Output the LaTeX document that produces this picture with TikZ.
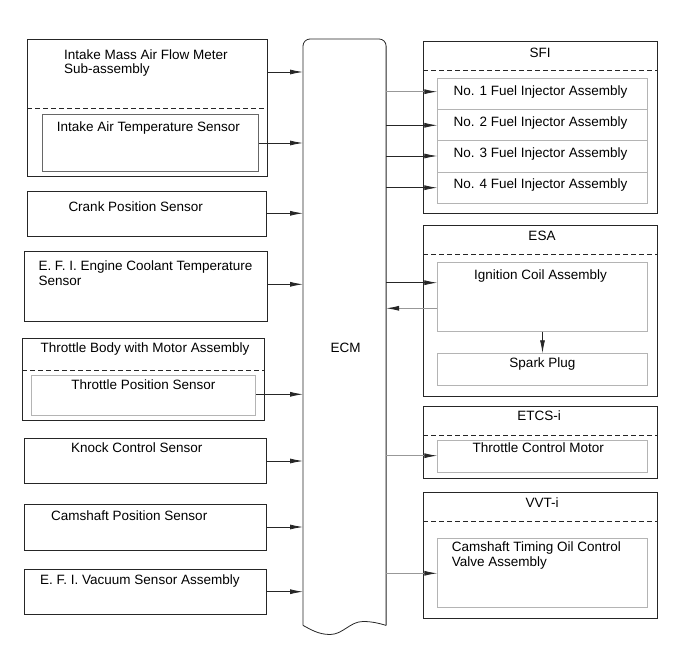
\documentclass[tikz,border=0pt]{standalone}
\usepackage{fontspec}
\setmainfont{Liberation Sans}
\usepackage{tikz}
\usetikzlibrary{arrows.meta,positioning}
\definecolor{inkgray}{HTML}{262626}
\definecolor{palegray}{HTML}{B4B4B4}
\tikzset{
  blk/.style={draw=inkgray,line width=.8pt,inner sep=0,anchor=north west},
  sub/.style={draw=palegray,line width=1pt,inner sep=0,anchor=north west},
  lbl/.style={inner sep=0,font=\fontsize{13.5}{14.5}\selectfont,align=left},
  sep/.style={inkgray,line width=.8pt,dash pattern=on 5pt off 3pt},
  sig/.style={-{Latex[length=13pt,width=5pt]},inkgray,line width=.8pt},
  sigpale/.style={-{Latex[length=13pt,width=5pt,color=inkgray]},palegray!80!inkgray,line width=.9pt},
}

\begin{document}
\begin{tikzpicture}[x=1pt,y=-1pt]
  \useasboundingbox (0,0) rectangle (691,660);
  % sensors (left)
  \node[blk,minimum width=240,minimum height=136.4] (maf) at (27,39.3) {};
  \draw[sep] (maf.west |- 0,108) -- (maf.east |- 0,108);
  \node[blk,draw=inkgray!70,minimum width=216,minimum height=57.3] (iat) at (42,113.7) {};
  \node[blk,minimum width=239,minimum height=44.7] (crank) at (26.7,191) {};
  \node[blk,minimum width=242.7,minimum height=70] (ect) at (24,251) {};
  \node[blk,minimum width=242,minimum height=81.7] (tb) at (22.3,338.3) {};
  \draw[sep] (tb.west |- 0,370.7) -- (tb.east |- 0,370.7);
  \node[sub,minimum width=224,minimum height=40] (tps) at (31,375) {};
  \node[blk,minimum width=241.7,minimum height=45] (knock) at (24,438.3) {};
  \node[blk,minimum width=241.7,minimum height=45.7] (cmp) at (24,504.3) {};
  \node[blk,minimum width=241.7,minimum height=44.7] (vac) at (24,569.3) {};

  \node[lbl,anchor=base west] (maft) at (64,73.8) {Intake Mass Air Flow Meter\\Sub-assembly};
  \node[lbl,anchor=base west] (iatt) at (56.7,131.7) {Intake Air Temperature Sensor};
  \node[lbl,anchor=base west] (crankt) at (68.3,211.7) {Crank Position Sensor};
  \node[lbl,anchor=base west] (ectt) at (38.3,285.2) {E. F. I. Engine Coolant Temperature\\Sensor};
  \node[lbl,anchor=base] (tbt) at (145,352.3) {Throttle Body with Motor Assembly};
  \node[lbl,anchor=base] (tpst) at (143.3,389.3) {Throttle Position Sensor};
  \node[lbl,anchor=base west] (knockt) at (71,452.7) {Knock Control Sensor};
  \node[lbl,anchor=base west] (cmpt) at (51,520.7) {Camshaft Position Sensor};
  \node[lbl,anchor=base west] (vact) at (40,584.3) {E. F. I. Vacuum Sensor Assembly};

  % ECM
  \node[inner sep=0,anchor=north west,minimum width=82.7,minimum height=586] (ecm) at (303,39) {};
  \draw[inkgray,line width=.8pt,rounded corners=7pt]
    (ecm.south west) -- (ecm.north west) -- (ecm.north east) -- (ecm.south east);
  \draw[inkgray,line width=.8pt] (ecm.south east)
    .. controls (378,623) and (372,621.5) .. (363,621.5)
    .. controls (350,621.5) and (343,634.5) .. (330,634.5)
    .. controls (318,634.5) and (310,629) .. (ecm.south west);
  \node[lbl,anchor=base] (ecmt) at (345.5,352.3) {ECM};

  % actuators (right)
  \node[blk,minimum width=233.7,minimum height=172] (sfi) at (423,40.7) {};
  \draw[sep] (sfi.west |- 0,70) -- (sfi.east |- 0,70);
  \node[lbl,anchor=base] (sfit) at (540,57.7) {SFI};
  \foreach \k in {1,...,4}{
    \node[sub,minimum width=209.4,minimum height=31.1] (inj\k) at (437.3,{78.3+31.1*(\k-1)}) {};
    \node[lbl,anchor=base west] (inj\k t) at (453.3,{95.5+31*(\k-1)}) {No. \k\ Fuel Injector Assembly};
  }

  \node[blk,minimum width=233.7,minimum height=171] (esa) at (423,225) {};
  \draw[sep] (esa.west |- 0,254) -- (esa.east |- 0,254);
  \node[lbl,anchor=base] (esat) at (542,240.3) {ESA};
  \node[sub,minimum width=209.4,minimum height=68.4] (ign) at (437.3,262.3) {};
  \node[lbl,anchor=base] (ignt) at (540.5,280) {Ignition Coil Assembly};
  \node[sub,minimum width=209.4,minimum height=31.7] (spark) at (437.3,353.3) {};
  \node[lbl,anchor=base] (sparkt) at (542.5,367) {Spark Plug};

  \node[blk,minimum width=233.7,minimum height=72.6] (etcs) at (423,405.7) {};
  \draw[sep] (etcs.west |- 0,435) -- (etcs.east |- 0,435);
  \node[lbl,anchor=base] (etcst) at (539,420) {ETCS-i};
  \node[sub,minimum width=209.4,minimum height=31.7] (tcm) at (437.3,440) {};
  \node[lbl,anchor=base] (tcmt) at (538.3,452.7) {Throttle Control Motor};

  \node[blk,minimum width=233.7,minimum height=125.4] (vvt) at (423,492.3) {};
  \draw[sep] (vvt.west |- 0,521.7) -- (vvt.east |- 0,521.7);
  \node[lbl,anchor=base] (vvtt) at (542,507.7) {VVT-i};
  \node[sub,minimum width=209.4,minimum height=69] (ocv) at (437.3,537.7) {};
  \node[lbl,anchor=base west] (ocvt) at (451.7,566.2) {Camshaft Timing Oil Control\\Valve Assembly};

  % signals
  \draw[sig] (maf.east |- 0,72) -- (ecm.west |- 0,72);
  \draw[sig] (iat.east |- 0,143) -- (ecm.west |- 0,143);
  \draw[sig] (crank.east |- 0,213.3) -- (ecm.west |- 0,213.3);
  \draw[sig] (ect.east |- 0,284.3) -- (ecm.west |- 0,284.3);
  \draw[sig] (tps.east |- 0,394.3) -- (ecm.west |- 0,394.3);
  \draw[sig] (knock.east |- 0,461) -- (ecm.west |- 0,461);
  \draw[sig] (cmp.east |- 0,527) -- (ecm.west |- 0,527);
  \draw[sig] (vac.east |- 0,591.7) -- (ecm.west |- 0,591.7);

  \draw[sigpale] (ecm.east |- 0,91.7) -- (inj1.west |- 0,91.7);
  \draw[sig] (ecm.east |- 0,125.3) -- (inj2.west |- 0,125.3);
  \draw[sig] (ecm.east |- 0,156) -- (inj3.west |- 0,156);
  \draw[sig] (ecm.east |- 0,187.7) -- (inj4.west |- 0,187.7);
  \draw[sig] (ecm.east |- 0,282.7) -- (ign.west |- 0,282.7);
  \draw[sigpale] (ign.west |- 0,308.3) -- (ecm.east |- 0,308.3);
  \draw[sig] (ign.south) -- (spark.north);
  \draw[sigpale] (ecm.east |- 0,455.7) -- (tcm.west |- 0,455.7);
  \draw[sigpale] (ecm.east |- 0,573.3) -- (ocv.west |- 0,573.3);
\end{tikzpicture}
\end{document}
